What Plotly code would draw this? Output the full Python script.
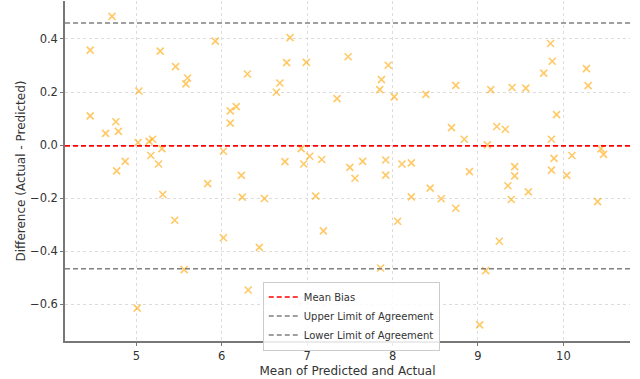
import plotly.graph_objects as go

mean_vals = [
    4.715, 4.46, 5.28, 5.46, 5.60, 5.58, 5.03, 4.46, 4.76, 4.64, 4.79, 5.02, 5.15, 5.19, 5.30, 5.17, 5.26, 4.87, 4.77,
    5.835, 5.31, 5.45, 5.56, 5.01,
    5.925, 6.80, 7.48, 6.76, 6.99, 6.30, 6.68, 6.64, 7.35, 6.17, 6.10, 6.10, 6.02, 6.93, 7.03, 7.17, 6.96, 6.74, 6.23, 7.50,
    6.24, 6.50, 7.10, 6.02, 6.44, 7.19, 6.31,
    7.95, 7.87, 7.85, 8.02, 8.39, 8.74, 9.15, 8.69, 8.84, 9.11, 7.65, 7.92, 8.11, 8.22, 8.90, 7.56, 7.92,
    8.44, 8.22, 8.57, 8.74, 8.06, 7.86, 9.09, 9.02,
    9.85, 9.87, 9.77, 10.27, 10.29, 9.40, 9.56, 9.92, 9.22, 9.32, 9.86, 10.44, 10.47, 10.10, 9.89, 9.43, 9.43, 9.86, 10.04,
    9.35, 9.59, 9.39, 10.40, 9.25,
]
diff_vals = [
    0.485, 0.358, 0.354, 0.296, 0.253, 0.231, 0.204, 0.110, 0.088, 0.044, 0.052, 0.010, 0.014, 0.022, -0.013, -0.039, -0.071, -0.061, -0.097,
    -0.145, -0.186, -0.283, -0.469, -0.614,
    0.392, 0.405, 0.333, 0.311, 0.312, 0.268, 0.234, 0.199, 0.175, 0.145, 0.129, 0.083, -0.023, -0.013, -0.042, -0.054, -0.071, -0.062, -0.114, -0.084,
    -0.196, -0.201, -0.192, -0.349, -0.385, -0.323, -0.546,
    0.301, 0.247, 0.209, 0.182, 0.191, 0.225, 0.209, 0.066, 0.022, 0.001, -0.061, -0.056, -0.071, -0.067, -0.100, -0.125, -0.113,
    -0.162, -0.195, -0.202, -0.238, -0.287, -0.463, -0.473, -0.677,
    0.383, 0.316, 0.271, 0.288, 0.224, 0.217, 0.215, 0.115, 0.070, 0.060, 0.022, -0.014, -0.035, -0.039, -0.050, -0.081, -0.116, -0.094, -0.114,
    -0.153, -0.176, -0.205, -0.213, -0.362,
]

mean_bias = -0.003
upper_loa = 0.460
lower_loa = -0.466

x_range = [4.165, 10.78]
y_range = [-0.738, 0.543]

fig = go.Figure()
fig.add_trace(go.Scatter(
    x=mean_vals, y=diff_vals, mode="markers", showlegend=False,
    marker=dict(symbol="x-thin", size=7, line=dict(width=1.6, color="rgba(255,165,0,0.6)"),
                color="rgba(255,165,0,0.6)"),
))
fig.add_trace(go.Scatter(x=x_range, y=[mean_bias, mean_bias], mode="lines", name="Mean Bias",
                         line=dict(color="red", width=1.6, dash="5px,3px")))
fig.add_trace(go.Scatter(x=x_range, y=[upper_loa, upper_loa], mode="lines", name="Upper Limit of Agreement",
                         line=dict(color="gray", width=1.6, dash="5px,3px")))
fig.add_trace(go.Scatter(x=x_range, y=[lower_loa, lower_loa], mode="lines", name="Lower Limit of Agreement",
                         line=dict(color="gray", width=1.6, dash="5px,3px")))

axis_common = dict(
    showgrid=True, gridcolor="#dcdcdc", griddash="dot", gridwidth=1,
    zeroline=False, showline=True, linecolor="#777", linewidth=1.5,
    ticks="outside", ticklen=3, tickcolor="#777",
    tickfont=dict(family="DejaVu Sans", size=11.5, color="#333"),
)
fig.update_xaxes(range=x_range, tickvals=[5, 6, 7, 8, 9, 10],
                 title=dict(text="Mean of Predicted and Actual", font=dict(family="DejaVu Sans", size=12, color="#333"), standoff=5),
                 **axis_common)
fig.update_yaxes(range=y_range, tickvals=[-0.6, -0.4, -0.2, 0.0, 0.2, 0.4], tickformat=".1f",
                 title=dict(text="Difference (Actual - Predicted)", font=dict(family="DejaVu Sans", size=12, color="#333"), standoff=2),
                 **axis_common)

fig.update_layout(
    width=640, height=379,
    margin=dict(l=65, r=10, t=1, b=38),
    plot_bgcolor="white", paper_bgcolor="white",
    font=dict(family="DejaVu Sans", color="#333"),
    legend=dict(x=0.35, y=0.175, xanchor="left", yanchor="top",
                bgcolor="rgba(255,255,255,0.85)", bordercolor="#ccc", borderwidth=1,
                font=dict(family="DejaVu Sans", size=10, color="#333"),
                itemwidth=30, tracegroupgap=0),
)

fig.write_html("out.html")
